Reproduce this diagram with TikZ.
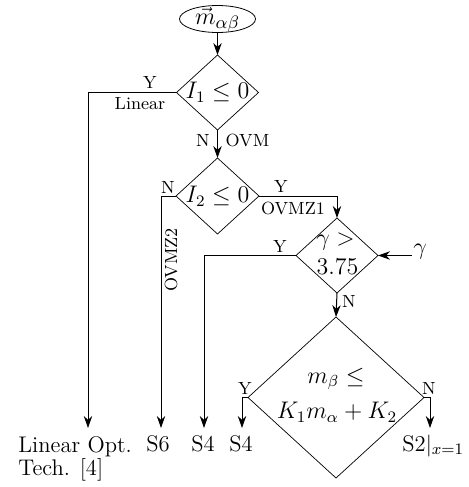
\documentclass[tikz,border=0pt]{standalone}
\usetikzlibrary{shapes.geometric,arrows.meta}
\begin{document}
\begin{tikzpicture}[x=0.5pt,y=-0.5pt,
  dia/.style={diamond,draw,line width=0.35pt,inner sep=0pt,outer sep=0pt},
  mlbl/.style={font=\fontsize{12}{14}\selectfont,inner sep=0pt},
  endlbl/.style={font=\fontsize{11.3}{11.7}\selectfont,inner sep=0pt},
  small/.style={font=\fontsize{8.8}{10}\selectfont,inner sep=0pt},
  arr/.style={-{Stealth[length=6pt,width=4.2pt]},line width=0.5pt}]
\useasboundingbox (0,0) rectangle (468,487);
% start
\node[ellipse,draw,line width=0.4pt,minimum width=38pt,minimum height=13.5pt,inner sep=0pt,outer sep=0pt] (e) at (217.5,19) {};
\node[mlbl,font=\fontsize{12.8}{14}\selectfont] (et) at (217.5,19.5) {$\vec{m}_{\alpha\beta}$};
% diamonds
\node[dia,minimum width=41pt,minimum height=37.5pt] (d1) at (217.5,92.5) {};
\node[mlbl] (t1) at (217.5,92.5) {$I_1\le 0$};
\node[dia,minimum width=41.5pt,minimum height=38pt] (d2) at (217.5,196) {};
\node[mlbl] (t2) at (217.5,196) {$I_2\le 0$};
\node[dia,minimum width=41pt,minimum height=37.5pt] (dg) at (337,255.5) {};
\node[mlbl] (tg1) at (335.5,242) {$\gamma>$};
\node[mlbl] (tg2) at (337.5,267) {$3.75$};
\node[dia,minimum width=88pt,minimum height=80.5pt] (db) at (336,397.5) {};
\node[mlbl] (tb1) at (336,379) {$m_\beta\le$};
\node[mlbl] (tb2) at (337,412) {$K_1m_\alpha+K_2$};
% end points
\coordinate (endLin) at (88,428);
\coordinate (endS6) at (161,428);
\coordinate (endS4a) at (204,428);
\coordinate (endS4b) at (242,428);
\coordinate (endS2) at (430,428);
\coordinate (gin) at (412,255.5);
% connectors
\draw[arr] (e.south) -- (d1.north);
\draw[arr] (d1.west) -| (endLin);
\draw[arr] (d1.south) -- (d2.north);
\draw[arr] (d2.west) -| (endS6);
\draw[arr] (d2.east) -| (dg.north);
\draw[arr] (gin) -- (dg.east);
\draw[arr] (dg.west) -| (endS4a);
\draw[arr] (dg.south) -- (db.north);
\draw[arr] (db.west) -| (endS4b);
\draw[arr] (db.east) -| (endS2);
% small labels
\node[small] (y1) at (150,82.5) {Y};
\node[small] (lin) at (140,104) {Linear};
\node[small] (n1) at (203,140) {N};
\node[small] (ovm) at (247.5,140) {OVM};
\node[small] (n2) at (168,187) {N};
\node[small,rotate=90] (ovmz2) at (171,260) {OVMZ2};
\node[small] (y2) at (281,186.5) {Y};
\node[small] (ovmz1) at (293,208) {OVMZ1};
\node[small] (y3) at (280,246) {Y};
\node[mlbl] (gl) at (420,252) {$\gamma$};
\node[small] (n3) at (349,301) {N};
\node[small] (y4) at (245,388.5) {Y};
\node[small] (n4) at (429,388) {N};
% end labels
\node[endlbl,align=left,anchor=north west] (lo) at (18,436) {Linear Opt.\\Tech. [4]};
\node[endlbl,anchor=base] (s6) at (158,451) {S6};
\node[endlbl,anchor=base] (s4a) at (203,451) {S4};
\node[endlbl,anchor=base] (s4b) at (241,451) {S4};
\node[endlbl,anchor=base west] (s2) at (402,451) {S2$|_{x=1}$};
\end{tikzpicture}
\end{document}
